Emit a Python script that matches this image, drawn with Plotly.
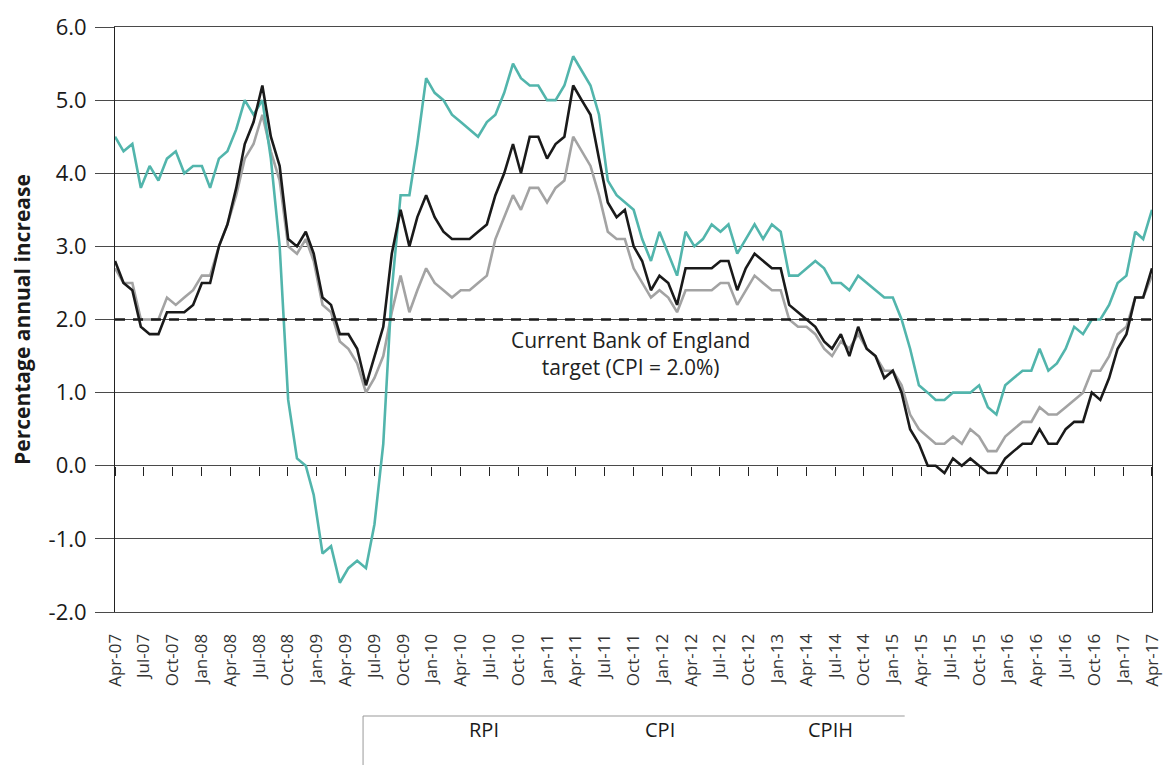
import pandas as pd
import plotly.graph_objects as go

# Monthly annual-rate data, Apr-07 .. Apr-17 (121 months)
months = pd.date_range("2007-04-01", periods=121, freq="MS")

rpi = [
    4.5, 4.3, 4.4, 3.8, 4.1, 3.9, 4.2, 4.3, 4.0,
    4.1, 4.1, 3.8, 4.2, 4.3, 4.6, 5.0, 4.8, 5.0, 4.2, 3.0, 0.9,
    0.1, 0.0, -0.4, -1.2, -1.1, -1.6, -1.4, -1.3, -1.4, -0.8, 0.3, 2.4,
    3.7, 3.7, 4.4, 5.3, 5.1, 5.0, 4.8, 4.7, 4.6, 4.5, 4.7, 4.8,
    5.1, 5.5, 5.3, 5.2, 5.2, 5.0, 5.0, 5.2, 5.6, 5.4, 5.2, 4.8,
    3.9, 3.7, 3.6, 3.5, 3.1, 2.8, 3.2, 2.9, 2.6, 3.2, 3.0, 3.1,
    3.3, 3.2, 3.3, 2.9, 3.1, 3.3, 3.1, 3.3, 3.2, 2.6, 2.6, 2.7,
    2.8, 2.7, 2.5, 2.5, 2.4, 2.6, 2.5, 2.4, 2.3, 2.3, 2.0, 1.6,
    1.1, 1.0, 0.9, 0.9, 1.0, 1.0, 1.0, 1.1, 0.8, 0.7, 1.1, 1.2,
    1.3, 1.3, 1.6, 1.3, 1.4, 1.6, 1.9, 1.8, 2.0, 2.0, 2.2, 2.5,
    2.6, 3.2, 3.1, 3.5,
]

cpi = [
    2.8, 2.5, 2.4, 1.9, 1.8, 1.8, 2.1, 2.1, 2.1,
    2.2, 2.5, 2.5, 3.0, 3.3, 3.8, 4.4, 4.7, 5.2, 4.5, 4.1, 3.1,
    3.0, 3.2, 2.9, 2.3, 2.2, 1.8, 1.8, 1.6, 1.1, 1.5, 1.9, 2.9,
    3.5, 3.0, 3.4, 3.7, 3.4, 3.2, 3.1, 3.1, 3.1, 3.2, 3.3, 3.7,
    4.0, 4.4, 4.0, 4.5, 4.5, 4.2, 4.4, 4.5, 5.2, 5.0, 4.8, 4.2,
    3.6, 3.4, 3.5, 3.0, 2.8, 2.4, 2.6, 2.5, 2.2, 2.7, 2.7, 2.7,
    2.7, 2.8, 2.8, 2.4, 2.7, 2.9, 2.8, 2.7, 2.7, 2.2, 2.1, 2.0,
    1.9, 1.7, 1.6, 1.8, 1.5, 1.9, 1.6, 1.5, 1.2, 1.3, 1.0, 0.5,
    0.3, 0.0, 0.0, -0.1, 0.1, 0.0, 0.1, 0.0, -0.1, -0.1, 0.1, 0.2,
    0.3, 0.3, 0.5, 0.3, 0.3, 0.5, 0.6, 0.6, 1.0, 0.9, 1.2, 1.6,
    1.8, 2.3, 2.3, 2.7,
]

cpih = [
    2.7, 2.5, 2.5, 2.0, 2.0, 2.0, 2.3, 2.2, 2.3,
    2.4, 2.6, 2.6, 3.0, 3.3, 3.7, 4.2, 4.4, 4.8, 4.3, 3.9, 3.0,
    2.9, 3.1, 2.8, 2.2, 2.1, 1.7, 1.6, 1.4, 1.0, 1.2, 1.5, 2.1,
    2.6, 2.1, 2.4, 2.7, 2.5, 2.4, 2.3, 2.4, 2.4, 2.5, 2.6, 3.1,
    3.4, 3.7, 3.5, 3.8, 3.8, 3.6, 3.8, 3.9, 4.5, 4.3, 4.1, 3.7,
    3.2, 3.1, 3.1, 2.7, 2.5, 2.3, 2.4, 2.3, 2.1, 2.4, 2.4, 2.4,
    2.4, 2.5, 2.5, 2.2, 2.4, 2.6, 2.5, 2.4, 2.4, 2.0, 1.9, 1.9,
    1.8, 1.6, 1.5, 1.7, 1.6, 1.8, 1.6, 1.5, 1.3, 1.3, 1.1, 0.7,
    0.5, 0.4, 0.3, 0.3, 0.4, 0.3, 0.5, 0.4, 0.2, 0.2, 0.4, 0.5,
    0.6, 0.6, 0.8, 0.7, 0.7, 0.8, 0.9, 1.0, 1.3, 1.3, 1.5, 1.8,
    1.9, 2.3, 2.3, 2.6,
]

target = 2.0

tick_labels = [
    "Apr-07", "Jul-07", "Oct-07", "Jan-08", "Apr-08", "Jul-08", "Oct-08",
    "Jan-09", "Apr-09", "Jul-09", "Oct-09", "Jan-10", "Apr-10", "Jul-10",
    "Oct-10", "Jan-11", "Apr-11", "Jul-11", "Oct-11", "Jan-12", "Apr-12",
    "Jul-12", "Oct-12", "Jan-13", "Apr-14", "Jul-14", "Oct-14", "Jan-15",
    "Apr-15", "Jul-15", "Oct-15", "Jan-16", "Apr-16", "Jul-16", "Oct-16",
    "Jan-17", "Apr-17",
]

y_ticks = [-2.0, -1.0, 0.0, 1.0, 2.0, 3.0, 4.0, 5.0, 6.0]

series_names = ["RPI", "CPI", "CPIH"]
series_colors = ["#52b5ac", "#1a1a1a", "#a3a3a3"]

# evenly spread label positions across the time span
start, end = months[0], months[-1]
n = len(tick_labels) - 1
span_s = (end - start).total_seconds()
tick_pos = [(start + pd.Timedelta(seconds=span_s * k / n)).strftime("%Y-%m-%d %H:%M:%S")
            for k in range(n + 1)]
x_vals = [m.strftime("%Y-%m-%d") for m in months]
pad = pd.Timedelta(hours=2)
x_range = [(start - pad).strftime("%Y-%m-%d %H:%M:%S"),
           (end + pad).strftime("%Y-%m-%d %H:%M:%S")]

FONT = "Open Sans"
GRID = "#4a4a4a"

fig = go.Figure()

for name, vals, col in [("CPIH", cpih, series_colors[2]),
                        ("RPI", rpi, series_colors[0]),
                        ("CPI", cpi, series_colors[1])]:
    fig.add_trace(go.Scatter(x=x_vals, y=vals, mode="lines", name=name,
                             line=dict(color=col, width=2.6),
                             showlegend=False))

# target line on the secondary (tick) axis
fig.add_trace(go.Scatter(x=[x_vals[0], x_vals[-1]], y=[target, target], mode="lines",
                         xaxis="x2", line=dict(color="#1a1a1a", width=2.4,
                                               dash="10px,8px"),
                         showlegend=False, hoverinfo="skip"))

y_min, y_max = y_ticks[0], y_ticks[-1]
zero_pos = (0 - y_min) / (y_max - y_min)

fig.update_layout(
    width=1164, height=765,
    margin=dict(l=115, r=12, t=27, b=153),
    paper_bgcolor="white", plot_bgcolor="white",
    font=dict(family=FONT, color="#1a1a1a"),
    showlegend=False,
    xaxis=dict(
        type="date", range=x_range,
        tickmode="array", tickvals=tick_pos, ticktext=tick_labels,
        tickangle=-90, ticks="", ticklabelstandoff=14,
        ticklabeloverflow="allow",
        tickfont=dict(size=17, color="#333333", family=FONT),
        showgrid=False, zeroline=False, automargin=False,
        showline=True, mirror=True, linecolor=GRID, linewidth=1,
    ),
    xaxis2=dict(
        type="date", overlaying="x", matches="x", anchor="free",
        position=zero_pos, side="bottom",
        tickmode="array", tickvals=tick_pos, showticklabels=False,
        ticks="outside", ticklen=9, tickwidth=1.2, tickcolor="#222222",
        showgrid=False, zeroline=False, showline=False,
    ),
    yaxis=dict(
        range=[y_min, y_max],
        tickmode="array", tickvals=y_ticks,
        ticktext=[f"{v:.1f}" for v in y_ticks],
        showgrid=True, gridcolor=GRID, gridwidth=1,
        zeroline=False, automargin=False,
        ticks="outside", ticklen=19, tickcolor=GRID,
        ticklabelstandoff=4,
        tickfont=dict(size=22, color="#1a1a1a", family=FONT),
        showline=True, mirror=True, linecolor="#222222", linewidth=1,
        title=dict(text="<b>Percentage annual increase</b>",
                   font=dict(size=21, color="#1a1a1a", family=FONT),
                   standoff=12),
    ),
)

# target annotation
fig.add_annotation(
    text="Current Bank of England<br>target (CPI = 2.0%)",
    xref="paper", x=0.497, yref="y", y=1.53,
    showarrow=False, align="center",
    font=dict(size=21, color="#222222", family=FONT),
)

# legend strip at the bottom
legend_x = [0.3557, 0.5256, 0.7140]
for name, lx in zip(series_names, legend_x):
    fig.add_annotation(text=name, xref="paper", yref="paper", x=lx, y=-0.2274,
                       showarrow=False, font=dict(size=20, color="#1a1a1a",
                                                  family=FONT))
fig.add_shape(type="line", xref="paper", yref="paper",
              x0=0.2392, x1=0.7615, y0=-0.1778, y1=-0.1778,
              line=dict(color="#999999", width=1))
fig.add_shape(type="line", xref="paper", yref="paper",
              x0=0.2392, x1=0.2392, y0=-0.1778, y1=-0.27,
              line=dict(color="#999999", width=1))

fig.write_html("out.html", config={"displayModeBar": False},
               post_script="document.body.style.margin='0';document.body.style.padding='0';")
